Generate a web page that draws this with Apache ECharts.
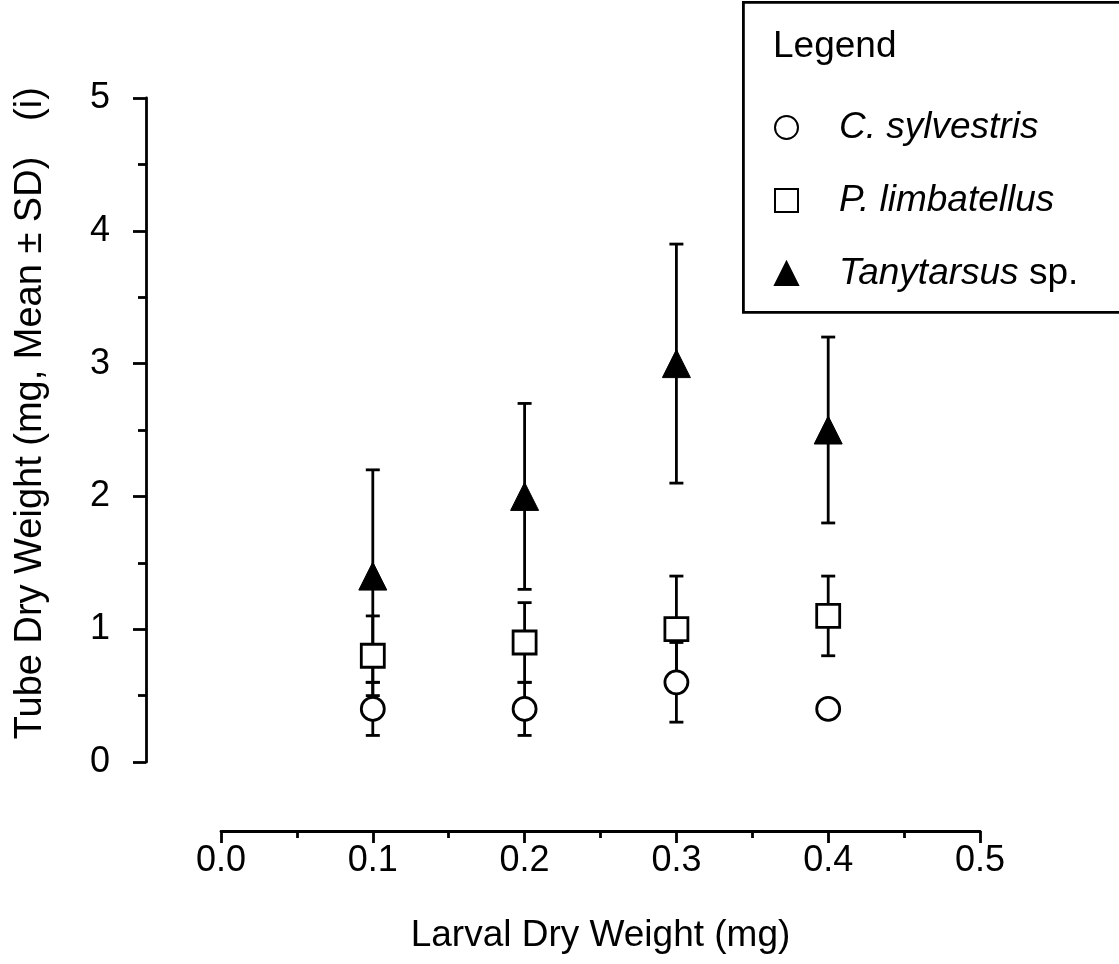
<!DOCTYPE html>
<html>
<head>
<meta charset="utf-8">
<script src="https://cdn.jsdelivr.net/npm/echarts@6/dist/echarts.min.js"></script>
<style>
html,body{margin:0;padding:0;background:#fff;}
#chart{width:1119px;height:964px;}
</style>
</head>
<body>
<div id="chart"></div>
<script>
// Data
var larvalWeight = [0.1, 0.2, 0.3, 0.4];
var sylvestrisMean = [0.4, 0.4, 0.6, 0.4];
var sylvestrisSD   = [0.2, 0.2, 0.3, 0.0];
var limbatellusMean = [0.8, 0.9, 1.0, 1.1];
var limbatellusSD   = [0.3, 0.3, 0.4, 0.3];
var tanytarsusMean = [1.4, 2.0, 3.0, 2.5];
var tanytarsusSD   = [0.8, 0.7, 0.9, 0.7];
var xTicks = [0.0, 0.1, 0.2, 0.3, 0.4, 0.5];
var yTicks = [0, 1, 2, 3, 4, 5];
var seriesNames = ['C. sylvestris', 'P. limbatellus', 'Tanytarsus sp.'];

var FONT = '"Liberation Sans", Arial, Helvetica, sans-serif';
var TITLE_SIZE = 37;
var TICK_SIZE = 36;

function points(means) {
  return larvalWeight.map(function (x, i) { return [x, means[i]]; });
}
function bars(means, sds) {
  return larvalWeight.map(function (x, i) { return [x, means[i] - sds[i], means[i] + sds[i]]; });
}

function renderErr(params, api) {
  var x = api.value(0), lo = api.value(1), hi = api.value(2);
  if (hi - lo <= 0) return null;
  var pLo = api.coord([x, lo]);
  var pHi = api.coord([x, hi]);
  var cap = 7;
  var style = { stroke: '#000', lineWidth: 2.8 };
  return {
    type: 'group',
    children: [
      { type: 'line', shape: { x1: pLo[0], y1: pLo[1], x2: pHi[0], y2: pHi[1] }, style: style },
      { type: 'line', shape: { x1: pLo[0] - cap, y1: pLo[1], x2: pLo[0] + cap, y2: pLo[1] }, style: style },
      { type: 'line', shape: { x1: pHi[0] - cap, y1: pHi[1], x2: pHi[0] + cap, y2: pHi[1] }, style: style }
    ]
  };
}

var chart = echarts.init(document.getElementById('chart'), null, { renderer: 'canvas' });

var option = {
  backgroundColor: '#fff',
  animation: false,
  textStyle: { fontFamily: FONT, color: '#000' },
  grid: { left: 221, right: 139, top: 98, bottom: 202, containLabel: false },
  xAxis: {
    type: 'value',
    min: xTicks[0], max: xTicks[xTicks.length - 1], interval: 0.1,
    offset: 69,
    name: 'Larval Dry Weight (mg)',
    nameLocation: 'middle',
    nameGap: 86,
    nameTextStyle: { fontFamily: FONT, fontSize: TITLE_SIZE, color: '#000' },
    axisLine: { show: true, onZero: false, lineStyle: { color: '#000', width: 2.8 } },
    axisTick: { show: true, inside: false, length: 12, lineStyle: { color: '#000', width: 2.8 } },
    minorTick: { show: true, splitNumber: 2, length: 7, lineStyle: { color: '#000', width: 2.8 } },
    splitLine: { show: false },
    minorSplitLine: { show: false },
    axisLabel: { margin: 12, fontFamily: FONT, fontSize: TICK_SIZE, color: '#000',
      formatter: function (v) { return v.toFixed(1); } }
  },
  yAxis: {
    type: 'value',
    min: yTicks[0], max: yTicks[yTicks.length - 1], interval: 1,
    offset: 75,
    axisLine: { show: true, onZero: false, lineStyle: { color: '#000', width: 2.8 } },
    axisTick: { show: true, inside: false, length: 13, lineStyle: { color: '#000', width: 2.8 } },
    minorTick: { show: true, splitNumber: 2, length: 8, lineStyle: { color: '#000', width: 2.8 } },
    splitLine: { show: false },
    minorSplitLine: { show: false },
    axisLabel: { margin: 36, fontFamily: FONT, fontSize: TICK_SIZE, color: '#000' }
  },
  legend: {
    orient: 'vertical',
    left: 774,
    top: 109,
    padding: 0,
    itemWidth: 23,
    itemHeight: 23,
    itemGap: 36,
    selectedMode: false,
    data: seriesNames,
    formatter: function (name) {
      if (name === 'Tanytarsus sp.') return '{s|}{i|Tanytarsus} sp.';
      return '{s|}{i|' + name + '}';
    },
    textStyle: {
      fontFamily: FONT, fontSize: TITLE_SIZE, color: '#000', lineHeight: 37,
      rich: {
        s: { width: 36, fontSize: TITLE_SIZE, lineHeight: 37 },
        i: { fontFamily: FONT, fontSize: TITLE_SIZE, fontStyle: 'italic', color: '#000', lineHeight: 37 }
      }
    }
  },
  graphic: [
    { type: 'rect', left: 742, top: 1, z: 0,
      shape: { width: 400, height: 310 },
      style: { fill: '#fff', stroke: '#000', lineWidth: 2.8 } },
    { type: 'text', left: 773, top: 28, z: 10,
      style: { text: 'Legend', font: TITLE_SIZE + 'px ' + FONT, fill: '#000' } },
    { type: 'text', x: 31, y: 448, rotation: Math.PI / 2, z: 10,
      style: { text: 'Tube Dry Weight (mg, Mean ± SD)', font: '38px ' + FONT, fill: '#000',
        align: 'center', verticalAlign: 'middle' } },
    { type: 'text', x: 31, y: 104, rotation: Math.PI / 2, z: 10,
      style: { text: '(i)', font: '38px ' + FONT, fill: '#000',
        align: 'center', verticalAlign: 'middle' } }
  ],
  series: [
    { type: 'custom', name: 'err-syl', renderItem: renderErr, data: bars(sylvestrisMean, sylvestrisSD), z: 2, silent: true },
    { type: 'custom', name: 'err-lim', renderItem: renderErr, data: bars(limbatellusMean, limbatellusSD), z: 2, silent: true },
    { type: 'custom', name: 'err-tan', renderItem: renderErr, data: bars(tanytarsusMean, tanytarsusSD), z: 2, silent: true },
    { type: 'scatter', name: seriesNames[0], data: points(sylvestrisMean), symbol: 'circle', symbolSize: 23, z: 5,
      itemStyle: { color: '#fff', borderColor: '#000', borderWidth: 2.8, opacity: 1 } },
    { type: 'scatter', name: seriesNames[1], data: points(limbatellusMean), symbol: 'rect', symbolSize: 23, z: 5,
      itemStyle: { color: '#fff', borderColor: '#000', borderWidth: 2.8, opacity: 1 } },
    { type: 'scatter', name: seriesNames[2], data: points(tanytarsusMean), symbol: 'triangle', symbolSize: 28, z: 5,
      itemStyle: { color: '#000', borderColor: '#000', borderWidth: 1, opacity: 1 } }
  ]
};
chart.setOption(option);
</script>
</body>
</html>
